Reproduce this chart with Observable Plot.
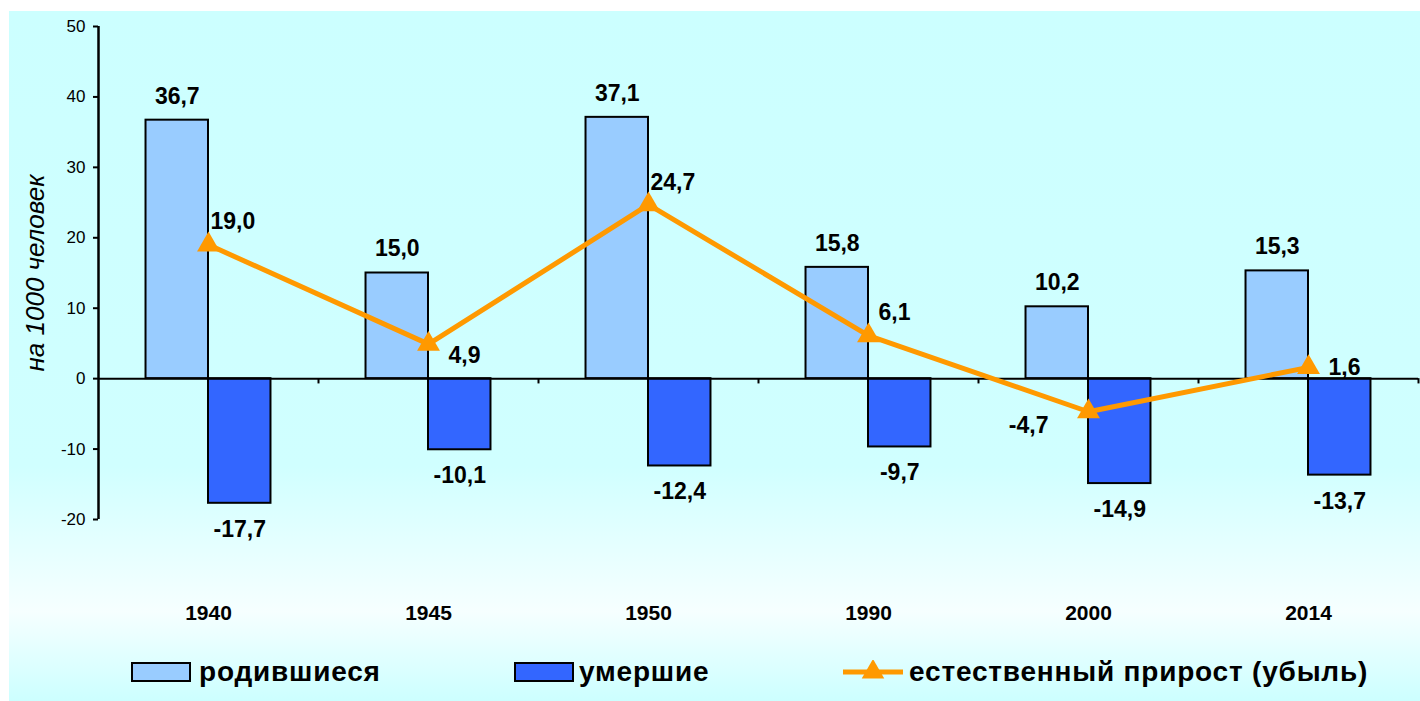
<!DOCTYPE html>
<html>
<head>
<meta charset="utf-8">
<script src="https://cdn.jsdelivr.net/npm/d3@7"></script>
<script src="https://cdn.jsdelivr.net/npm/@observablehq/plot@0.6"></script>
<style>
  body { margin: 0; background: #ffffff; width: 1420px; height: 701px; overflow: hidden; font-family: Arial, "Liberation Sans", sans-serif; }
  #bg { position: absolute; left: 9px; top: 11px; width: 1411px; height: 690px;
        background: linear-gradient(to bottom, #ccffff 0%, #d0ffff 66%, #f6ffff 87%, #ccffff 100%); }
  #chart { position: absolute; left: 0; top: 0; }
  .lg { position: absolute; }
  .lgtext { position: absolute; top: 654px; height: 36px; line-height: 36px; font-size: 28px; font-weight: bold; color: #000; letter-spacing: 0.8px; white-space: nowrap; }
  .sw { position: absolute; top: 662px; width: 60px; height: 20px; box-sizing: border-box; border: 2px solid #000; }
</style>
</head>
<body>
<div id="bg"></div>
<div id="chart"></div>
<div id="legend"></div>
<script>
// ---- data ----
const years = ["1940", "1945", "1950", "1990", "2000", "2014"];
const births = [36.7, 15.0, 37.1, 15.8, 10.2, 15.3];
const deaths = [-17.7, -10.1, -12.4, -9.7, -14.9, -13.7];
const natural = [19.0, 4.9, 24.7, 6.1, -4.7, 1.6];
const yTicks = [-20, -10, 0, 10, 20, 30, 40, 50];
const seriesNames = ["родившиеся", "умершие", "естественный прирост (убыль)"];
const yLabel = "на 1000 человек";

// ---- styles / layout (kept apart from data) ----
const colors = { births: "#99ccff", deaths: "#3366ff", natural: "#ff9900" };
const halfBar = 0.284; // bar width in band units
const naturalLabelPlacement = [
  { anchor: "start", dx: 2, dy: -23 },
  { anchor: "start", dx: 20, dy: 11 },
  { anchor: "start", dx: 2, dy: -22 },
  { anchor: "start", dx: 10, dy: -23 },
  { anchor: "end", dx: -40, dy: 14 },
  { anchor: "start", dx: 20, dy: 0 }
];

const fmt = v => v.toFixed(1).replace(".", ",");
const rows = years.map((y, i) => ({ i, year: y, births: births[i], deaths: deaths[i], natural: natural[i] }));

const labelFont = { fontSize: 23, fontWeight: "bold", fill: "#000" };

const natLabelMarks = rows.map((r, k) => {
  const p = naturalLabelPlacement[k];
  return Plot.text([r], { x: "i", y: "natural", text: d => fmt(d.natural), textAnchor: p.anchor, dx: p.dx, dy: p.dy, ...labelFont });
});

const chart = Plot.plot({
  width: 1420,
  height: 640,
  marginLeft: 98,
  marginRight: 2,
  marginTop: 26,
  marginBottom: 121,
  style: { background: "transparent", fontFamily: "Arial, 'Liberation Sans', sans-serif", color: "#000", overflow: "visible" },
  x: { domain: [-0.5, 5.5], axis: null },
  y: { domain: [-20, 50], axis: null },
  marks: [
    Plot.rectY(rows, { x1: d => d.i - halfBar, x2: d => d.i, y1: 0, y2: "births", fill: colors.births, stroke: "#000", strokeWidth: 2 }),
    Plot.rectY(rows, { x1: d => d.i, x2: d => d.i + halfBar, y1: 0, y2: "deaths", fill: colors.deaths, stroke: "#000", strokeWidth: 2 }),
    Plot.ruleY([0], { stroke: "#000", strokeWidth: 2 }),
    Plot.ruleX(d3.range(0.5, 6, 1), { y1: 0, y2: -0.75, stroke: "#000", strokeWidth: 2 }),
    Plot.ruleX([-0.5], { y1: -20, y2: 50, stroke: "#000", strokeWidth: 2.5 }),
    Plot.axisY(yTicks, { anchor: "left", tickSize: 5, tickPadding: 8, fontSize: 17, strokeWidth: 2, tickFormat: d => String(d), label: null }),
    Plot.axisX(d3.range(years.length), { anchor: "bottom", tickSize: 0, tickPadding: 86, fontSize: 21, fontWeight: "bold", tickFormat: i => years[i], label: null }),
    Plot.text([yLabel], { frameAnchor: "left", textAnchor: "middle", dx: -63, rotate: -90, text: d => d, fontSize: 26, fontStyle: "italic", fill: "#000" }),
    Plot.line(rows, { x: "i", y: "natural", stroke: colors.natural, strokeWidth: 5 }),
    Plot.dot(rows, { x: "i", y: "natural", symbol: "triangle", r: 8.5, fill: colors.natural, stroke: null }),
    Plot.text(rows, { x: d => d.i - halfBar / 2, y: "births", text: d => fmt(d.births), dy: -24, ...labelFont }),
    Plot.text(rows, { x: d => d.i + halfBar / 2, y: "deaths", text: d => fmt(d.deaths), dy: 26, ...labelFont }),
    ...natLabelMarks
  ]
});
document.getElementById("chart").appendChild(chart);

// ---- legend ----
const lg = document.getElementById("legend");
lg.innerHTML = `
  <div class="sw" style="left:131px;background:${colors.births}"></div>
  <div class="lgtext" style="left:199px">${seriesNames[0]}</div>
  <div class="sw" style="left:514px;background:${colors.deaths}"></div>
  <div class="lgtext" style="left:579px">${seriesNames[1]}</div>
  <svg class="lg" style="left:840px;top:660px" width="66" height="24">
    <line x1="3" x2="63" y1="12" y2="12" stroke="${colors.natural}" stroke-width="5"></line>
    <path d="${d3.symbol(d3.symbolTriangle, 220)()}" transform="translate(33,12)" fill="${colors.natural}"></path>
  </svg>
  <div class="lgtext" style="left:909px">${seriesNames[2]}</div>
`;
</script>
</body>
</html>
